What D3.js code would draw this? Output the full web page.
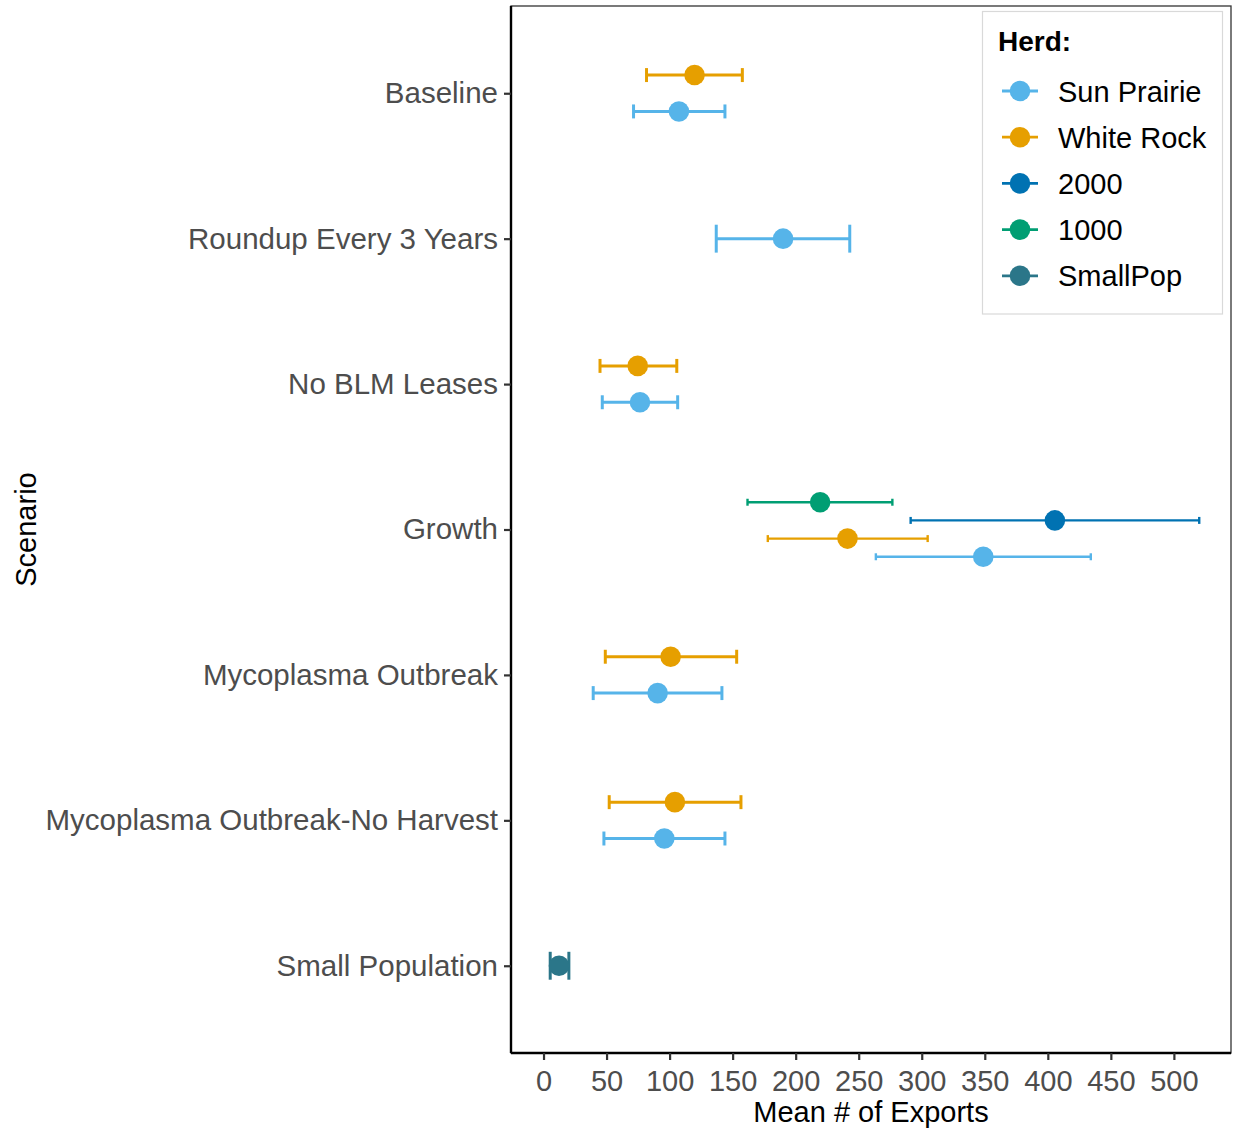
<!DOCTYPE html>
<html>
<head>
<meta charset="utf-8">
<script src="https://cdn.jsdelivr.net/npm/d3@7"></script>
<style>
  html, body { margin: 0; padding: 0; background: #fff; }
  svg { display: block; font-family: "Liberation Sans", Arial, sans-serif; }
</style>
</head>
<body>
<svg id="chart" width="1236" height="1129"></svg>
<script>
// ---- data ----
const scenarios = ["Baseline", "Roundup Every 3 Years", "No BLM Leases", "Growth",
  "Mycoplasma Outbreak", "Mycoplasma Outbreak-No Harvest", "Small Population"];
const herds = ["Sun Prairie", "White Rock", "2000", "1000", "SmallPop"];
const herdColors = ["#56B4E9", "#E69F00", "#0072B2", "#009E73", "#2B7689"];
const xTicks = [0, 50, 100, 150, 200, 250, 300, 350, 400, 450, 500];

const rowScenario = ["Baseline", "Baseline", "Roundup Every 3 Years", "No BLM Leases", "No BLM Leases",
  "Growth", "Growth", "Growth", "Growth",
  "Mycoplasma Outbreak", "Mycoplasma Outbreak",
  "Mycoplasma Outbreak-No Harvest", "Mycoplasma Outbreak-No Harvest", "Small Population"];
const rowHerd = ["Sun Prairie", "White Rock", "Sun Prairie", "Sun Prairie", "White Rock",
  "Sun Prairie", "White Rock", "2000", "1000",
  "Sun Prairie", "White Rock", "Sun Prairie", "White Rock", "SmallPop"];
const rowMean = [107.4, 119.8, 190.0, 76.5, 74.7, 348.8, 241.1, 405.6, 219.4, 90.5, 100.8, 95.8, 104.2, 12.3];
const rowLow  = [71.4, 81.7, 137.0, 46.6, 44.8, 263.6, 177.9, 291.2, 161.8, 39.4, 49.0, 47.9, 52.1, 5.3];
const rowHigh = [143.9, 157.7, 242.9, 106.4, 105.7, 434.1, 304.7, 520.1, 276.7, 141.5, 153.2, 143.9, 156.6, 20.1];

// ---- layout ----
const panel = { left: 511, right: 1231, top: 6, bottom: 1053 };
const svg = d3.select("#chart");

const x = d3.scaleLinear().domain([-25.8, 545.3]).range([panel.left, panel.right]);
const y = d3.scalePoint().domain(scenarios).range([panel.top, panel.bottom]).padding(0.6);
const color = d3.scaleOrdinal().domain(herds).range(herdColors);
const step = y.step();

const rows = rowScenario.map((s, i) => ({
  scenario: s, herd: rowHerd[i], mean: rowMean[i], low: rowLow[i], high: rowHigh[i]
}));
// dodge: groups ordered by herd order, first at bottom
const byScen = d3.group(rows, d => d.scenario);
byScen.forEach(arr => {
  arr.sort((a, b) => herds.indexOf(a.herd) - herds.indexOf(b.herd));
  const n = arr.length;
  arr.forEach((d, i) => {
    d.n = n;
    d.yy = y(d.scenario) - (i - (n - 1) / 2) * (0.5 / n) * step;
    d.cap = 0.096 * step / n;
  });
});

// panel border (top/right)
svg.append("rect")
  .attr("x", panel.left).attr("y", panel.top)
  .attr("width", panel.right - panel.left).attr("height", panel.bottom - panel.top)
  .attr("fill", "none").attr("stroke", "#333").attr("stroke-width", 1.3);

// marks
const g = svg.append("g");
rows.forEach(d => {
  const c = color(d.herd);
  const lw = d.n > 2 ? 2.4 : 3.0;
  g.append("line").attr("x1", x(d.low)).attr("x2", x(d.high))
    .attr("y1", d.yy).attr("y2", d.yy).attr("stroke", c).attr("stroke-width", lw);
  [d.low, d.high].forEach(v => {
    g.append("line").attr("x1", x(v)).attr("x2", x(v))
      .attr("y1", d.yy - d.cap).attr("y2", d.yy + d.cap)
      .attr("stroke", c).attr("stroke-width", lw);
  });
  g.append("circle").attr("cx", x(d.mean)).attr("cy", d.yy).attr("r", 10.3).attr("fill", c);
});

// axes
const xAxis = svg.append("g").attr("transform", `translate(0,${panel.bottom})`)
  .call(d3.axisBottom(x).tickValues(xTicks).tickSize(7).tickPadding(10).tickFormat(d3.format("d")));
xAxis.select(".domain").attr("stroke", "#000").attr("stroke-width", 2.4)
  .attr("d", `M${panel.left},0H${panel.right}`);
xAxis.selectAll(".tick line").attr("stroke", "#333").attr("stroke-width", 2.2);
xAxis.selectAll(".tick text").attr("fill", "#4D4D4D").style("font-size", "29px")
  .style("font-family", "Liberation Sans, Arial, sans-serif");

const yAxis = svg.append("g").attr("transform", `translate(${panel.left},0)`)
  .call(d3.axisLeft(y).tickSize(7).tickPadding(6));
yAxis.select(".domain").attr("stroke", "#000").attr("stroke-width", 2.4)
  .attr("d", `M0,${panel.top}V${panel.bottom}`);
yAxis.selectAll(".tick line").attr("stroke", "#333").attr("stroke-width", 2.2);
yAxis.selectAll(".tick text").attr("fill", "#4D4D4D").style("font-size", "29.5px")
  .style("font-family", "Liberation Sans, Arial, sans-serif");

// axis titles
svg.append("text").attr("x", (panel.left + panel.right) / 2).attr("y", 1122)
  .attr("text-anchor", "middle").style("font-size", "29px").attr("fill", "#000")
  .text("Mean # of Exports");
svg.append("text").attr("transform", `translate(36,${(panel.top + panel.bottom) / 2}) rotate(-90)`)
  .attr("text-anchor", "middle").style("font-size", "29px").attr("fill", "#000")
  .text("Scenario");

// legend
const lg = svg.append("g");
lg.append("rect").attr("x", 982.5).attr("y", 11.5).attr("width", 240).attr("height", 302.5)
  .attr("fill", "#fff").attr("stroke", "#D9D9D9").attr("stroke-width", 1.2);
lg.append("text").attr("x", 998).attr("y", 51).style("font-size", "28px")
  .style("font-weight", "bold").attr("fill", "#000").text("Herd:");
herds.forEach((h, i) => {
  const cy = 91 + i * 46.2;
  lg.append("line").attr("x1", 1002).attr("x2", 1038).attr("y1", cy).attr("y2", cy)
    .attr("stroke", color(h)).attr("stroke-width", 2.8);
  lg.append("circle").attr("cx", 1020).attr("cy", cy).attr("r", 10.3).attr("fill", color(h));
  lg.append("text").attr("x", 1058).attr("y", cy + 10.5).style("font-size", "29px")
    .attr("fill", "#000").text(h);
});
</script>
</body>
</html>
